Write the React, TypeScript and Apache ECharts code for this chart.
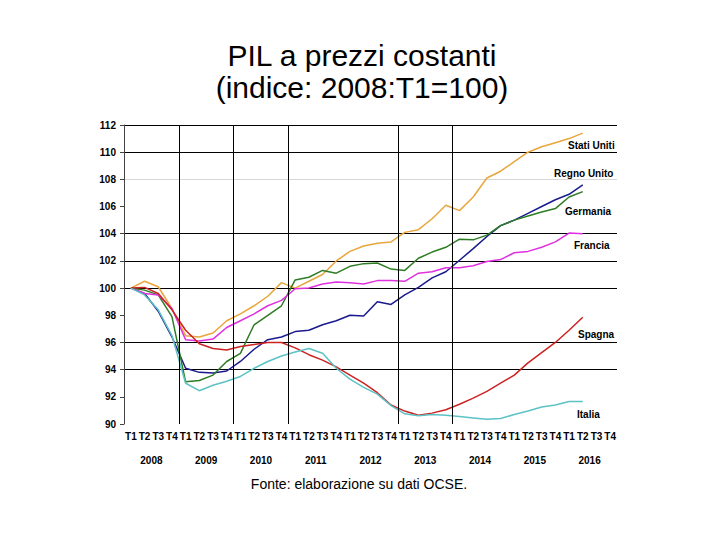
import React, { useEffect, useRef } from "react";
import * as echarts from "echarts";

const quarters: string[] = [];
for (let y = 0; y < 9; y++) quarters.push("T1", "T2", "T3", "T4");
const years = ["2008", "2009", "2010", "2011", "2012", "2013", "2014", "2015", "2016"];

const statiUniti = [100, 100.5, 100.1, 98.5, 96.5, 96.4, 96.7, 97.6, 98.1, 98.7, 99.4, 100.4, 100.0, 100.5, 101.0, 102.0, 102.7, 103.1, 103.3, 103.4, 104.1, 104.3, 105.1, 106.1, 105.7, 106.7, 108.1, 108.6, 109.3, 110.0, 110.4, 110.7, 111.0, 111.4];
const regnoUnito = [100, 99.6, 98.3, 96.4, 94.1, 93.8, 93.75, 93.9, 94.6, 95.5, 96.2, 96.4, 96.8, 96.9, 97.3, 97.6, 98.0, 97.95, 99.0, 98.8, 99.5, 100.05, 100.75, 101.2, 102.05, 102.9, 103.8, 104.6, 105.0, 105.5, 106.0, 106.5, 106.9, 107.6];
const germania = [100, 99.85, 99.5, 97.9, 93.1, 93.2, 93.6, 94.6, 95.2, 97.3, 98.0, 98.7, 100.6, 100.8, 101.3, 101.1, 101.6, 101.8, 101.85, 101.4, 101.3, 102.2, 102.65, 103.0, 103.6, 103.55, 103.9, 104.6, 105.0, 105.3, 105.6, 105.85, 106.7, 107.1];
const francia = [100, 99.6, 99.5, 98.5, 96.2, 96.1, 96.25, 97.1, 97.6, 98.1, 98.7, 99.1, 99.95, 100.0, 100.3, 100.45, 100.4, 100.3, 100.55, 100.55, 100.5, 101.1, 101.2, 101.5, 101.5, 101.65, 101.95, 102.1, 102.6, 102.7, 103.0, 103.4, 104.05, 104.0];
const spagna = [100, 100.05, 99.6, 98.4, 96.9, 95.9, 95.55, 95.45, 95.7, 95.85, 96.0, 96.0, 95.6, 95.1, 94.7, 94.2, 93.6, 93.0, 92.3, 91.4, 90.95, 90.65, 90.8, 91.05, 91.45, 91.9, 92.4, 93.0, 93.6, 94.5, 95.25, 96.0, 96.9, 97.85];
const italia = [100, 99.5, 98.4, 96.5, 93.0, 92.45, 92.85, 93.15, 93.5, 94.1, 94.6, 95.0, 95.3, 95.55, 95.2, 94.1, 93.3, 92.7, 92.2, 91.35, 90.75, 90.6, 90.7, 90.65, 90.55, 90.45, 90.35, 90.4, 90.7, 90.95, 91.25, 91.4, 91.65, 91.65];

const seriesNames = ["Stati Uniti", "Regno Unito", "Germania", "Francia", "Spagna", "Italia"];
const seriesColors = ["#E8A63C", "#1A1A8E", "#2E7D24", "#E030E0", "#CC2222", "#5CC2C4"];
const seriesData = [statiUniti, regnoUnito, germania, francia, spagna, italia];

// quarter boundaries (count of quarters from 2008 T1) where vertical gridlines are drawn
const verticalGridAt = [4, 8, 12, 20, 24];

const FONT = "'Liberation Sans', Arial, sans-serif";

export default function App() {
  const ref = useRef<HTMLDivElement>(null);
  useEffect(() => {
    const chart = echarts.init(ref.current!, null, { renderer: "svg" });
    const T = "rgba(0,0,0,0)";
    const K = "#000000";
    const G = "#d6d6d6";
    const labelStyle = {
      fontSize: 10,
      fontWeight: "bold",
      fontFamily: FONT,
      color: "#000",
    };
    chart.setOption({
      animation: false,
      backgroundColor: "#ffffff",
      grid: { left: 124, right: 103, top: 125, bottom: 116, containLabel: false },
      xAxis: [
        {
          type: "category",
          data: quarters,
          boundaryGap: true,
          axisLine: { show: false },
          axisTick: { show: false },
          splitLine: { show: false },
          axisLabel: { ...labelStyle, interval: 0, margin: 7 },
        },
        {
          type: "category",
          data: years,
          position: "bottom",
          offset: 24,
          axisLine: { show: false },
          axisTick: { show: false },
          splitLine: { show: false },
          axisLabel: { ...labelStyle, interval: 0, margin: 7 },
        },
        {
          type: "value",
          min: 0,
          max: quarters.length,
          show: false,
          position: "bottom",
        },
      ],
      yAxis: {
        type: "value",
        min: 90,
        max: 112,
        interval: 2,
        axisLine: { show: true, lineStyle: { color: "#444", width: 1 } },
        axisTick: { show: true, length: 4, lineStyle: { color: "#444" } },
        axisLabel: { ...labelStyle, margin: 8 },
        splitLine: {
          show: true,
          showMinLine: true,
          showMaxLine: true,
          lineStyle: { color: [T, T, K, K, T, K, K, K, T, G, K, K], width: 1 },
        },
      },
      series: [
        ...seriesData.map((d, i) => ({
          name: seriesNames[i],
          type: "line",
          data: d,
          xAxisIndex: 0,
          showSymbol: false,
          symbol: "none",
          lineStyle: { color: seriesColors[i], width: 1.5 },
          itemStyle: { color: seriesColors[i] },
          z: 3,
        })),
        {
          name: "grid-v",
          type: "line",
          xAxisIndex: 2,
          data: [],
          silent: true,
          z: 1,
          markLine: {
            silent: true,
            symbol: "none",
            label: { show: false },
            lineStyle: { color: "#000", width: 1, type: "solid" },
            data: verticalGridAt.map((v) => ({ xAxis: v })),
          },
        },
      ],
      graphic: [
        {
          type: "text",
          x: 362,
          y: 55,
          style: {
            text: "PIL a prezzi costanti",
            font: `30px ${FONT}`,
            fill: "#000",
            textAlign: "center",
            textVerticalAlign: "middle",
          },
        },
        {
          type: "text",
          x: 362,
          y: 87,
          style: {
            text: "(indice: 2008:T1=100)",
            font: `30px ${FONT}`,
            fill: "#000",
            textAlign: "center",
            textVerticalAlign: "middle",
          },
        },
        {
          type: "text",
          x: 359,
          y: 484,
          style: {
            text: "Fonte: elaborazione su dati OCSE.",
            font: `14px ${FONT}`,
            fill: "#000",
            textAlign: "center",
            textVerticalAlign: "middle",
          },
        },
        ...[
          [568, 145],
          [554, 173],
          [565, 211],
          [574, 245],
          [578, 334],
          [577, 414],
        ].map(([x, y], i) => ({
          type: "text",
          x,
          y,
          style: {
            text: seriesNames[i],
            font: `bold 10px ${FONT}`,
            fill: "#000",
            textAlign: "left",
            textVerticalAlign: "middle",
          },
        })),
      ],
    });
    return () => chart.dispose();
  }, []);
  return (
    <div
      ref={ref}
      style={{ position: "fixed", left: 0, top: 0, width: 720, height: 540, background: "#fff" }}
    />
  );
}
